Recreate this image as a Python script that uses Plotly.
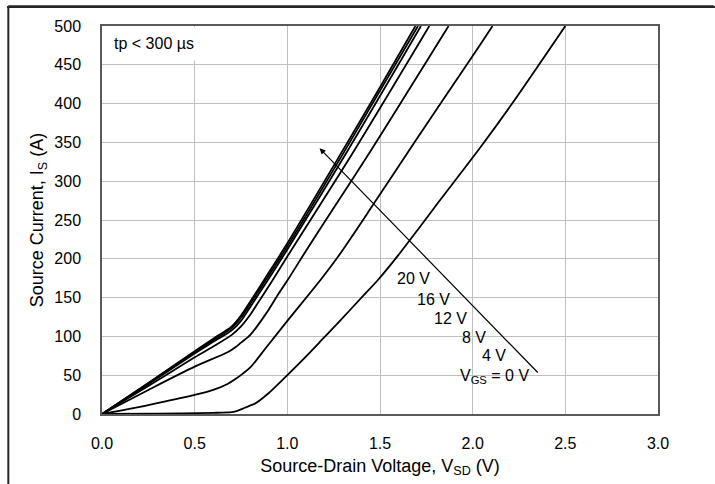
import plotly.graph_objects as go

# ---- data (V_SD in volts, I_S in amps) ----
v_c1 = [0, 0.25, 0.5, 0.6, 0.7, 0.75, 0.8, 0.878, 1.0, 1.3, 1.5, 1.691]
i_c1 = [0, 40, 81, 97, 113, 127, 145, 174, 220, 340, 421, 500]

v_c2 = [0, 0.25, 0.5, 0.6, 0.7, 0.75, 0.8, 0.887, 1.0, 1.312, 1.705]
i_c2 = [0, 39.5, 80, 95, 111, 124, 142, 174, 216, 340, 500]

v_c3 = [0, 0.25, 0.5, 0.6, 0.7, 0.75, 0.8, 0.896, 1.0, 1.327, 1.721]
i_c3 = [0, 38.5, 78, 93, 108, 120, 138, 173, 212, 340, 500]

v_c4 = [0, 0.25, 0.5, 0.6, 0.7, 0.75, 0.8, 0.833, 0.922, 1.0, 1.362, 1.766]
i_c4 = [0, 36, 73, 87, 102, 113, 128, 140, 173, 203, 340, 500]

v_c5 = [0, 0.25, 0.5, 0.68, 0.72, 0.75, 0.8, 0.887, 0.95, 1.0, 1.1, 1.2, 1.452, 1.87]
i_c5 = [0, 31, 61, 80, 86, 92, 102, 130, 154, 172, 210, 247, 340, 500]

v_c6 = [0, 0.25, 0.5, 0.6, 0.68, 0.72, 0.76, 0.8, 0.887, 1.0, 1.183, 1.28, 1.45, 1.68, 2.027, 2.107]
i_c6 = [0, 11.5, 24.5, 31, 39, 45, 52, 60, 86, 120, 174, 205, 265, 348, 471, 500]

v_c7 = [0, 0.3, 0.6, 0.7, 0.73, 0.77, 0.83, 0.9, 0.97, 1.0, 1.1, 1.2, 1.28, 1.4, 1.49, 1.6, 1.712, 1.8, 2.04, 2.213, 2.5]
i_c7 = [0, 0.5, 1.5, 2.5, 4, 8, 14, 27, 43, 50, 74, 99, 119, 150, 173, 205, 240, 268, 343, 400, 500]

curves = [(v_c1, i_c1), (v_c2, i_c2), (v_c3, i_c3), (v_c4, i_c4),
          (v_c5, i_c5), (v_c6, i_c6), (v_c7, i_c7)]

vgs_labels = ["20 V", "16 V", "12 V", "8 V", "4 V", "V<sub>GS</sub> = 0 V"]
x_ticks = [0.0, 0.5, 1.0, 1.5, 2.0, 2.5, 3.0]
y_ticks = [0, 50, 100, 150, 200, 250, 300, 350, 400, 450, 500]

FONT = "Liberation Sans, Arial, sans-serif"

fig = go.Figure()
for v, i in curves:
    fig.add_trace(go.Scatter(x=v, y=i, mode="lines",
                             line=dict(color="black", width=1.8, shape="spline", smoothing=0.8),
                             showlegend=False, hoverinfo="skip"))

# label positions (left edges) along the arrow
lab_pos = [(1.583, 174), (1.691, 148), (1.783, 122.5), (1.934, 99), (2.041, 75), (1.922, 48)]
for txt, (lx, ly) in zip(vgs_labels, lab_pos):
    fig.add_annotation(x=lx, y=ly, text=txt, showarrow=False, xanchor="left", yanchor="middle",
                       font=dict(family=FONT, size=16, color="black"))

# arrow
fig.add_annotation(x=1.174, y=342.5, ax=2.359, ay=51.5, axref="x", ayref="y", xref="x", yref="y",
                   text="", showarrow=True, arrowhead=2, arrowsize=1, arrowwidth=1.2, arrowcolor="black")

# white box behind the pulse note
fig.add_shape(type="rect", xref="paper", yref="paper", x0=0.01, x1=0.186, y0=0.911, y1=0.996,
              fillcolor="white", line=dict(width=0), layer="above")
fig.add_annotation(xref="paper", yref="paper", x=(111.7 - 102) / 556, y=(414 - 43.3) / 388,
                   xanchor="left", yanchor="middle", text="tp < 300 µs", showarrow=False,
                   font=dict(family=FONT, size=16, color="black"))

# outer frame (top and left edges visible in reference; right/bottom fall outside the image)
fig.add_shape(type="line", xref="paper", yref="paper", ysizemode="pixel", yanchor=1,
              x0=-0.1685, x1=1.1, y0=19.5, y1=19.5,
              line=dict(color="#262626", width=2.5), layer="above")
fig.add_shape(type="line", xref="paper", yref="paper", x0=-0.1685, x1=-0.1685, y0=1.0497, y1=-0.2,
              line=dict(color="#262626", width=2), layer="above")

fig.update_layout(
    width=715, height=484,
    margin=dict(l=102, r=57, t=26, b=70),
    paper_bgcolor="white", plot_bgcolor="white",
    font=dict(family=FONT, size=16, color="black"),
    xaxis=dict(range=[0, 3], tickvals=x_ticks, ticktext=[f"{t:.1f}" for t in x_ticks],
               showgrid=True, gridcolor="#bfbfbf", gridwidth=1.3,
               showline=True, linecolor="#595959", linewidth=1.5, mirror=True,
               ticks="", ticklabelstandoff=14, zeroline=False,
               title=dict(text="Source-Drain Voltage, V<sub>SD</sub> (V)", font=dict(size=18), standoff=8)),
    yaxis=dict(range=[0, 500], tickvals=y_ticks,
               showgrid=True, gridcolor="#bfbfbf", gridwidth=1.3,
               showline=True, linecolor="#595959", linewidth=1.5, mirror=True,
               ticks="", ticklabelstandoff=16, zeroline=False,
               title=dict(text="Source Current, I<sub>S</sub> (A)", font=dict(size=18), standoff=6)),
)

frame_js = (
    "document.body.style.margin='0';document.body.style.overflow='hidden';"
    "var f=document.createElement('div');"
    "f.style.cssText='position:fixed;left:7px;top:6px;width:720px;height:2px;"
    "background:#262626;pointer-events:none;z-index:10;';"
    "document.body.appendChild(f);"
)
fig.write_html("out.html", config={"displayModeBar": False}, post_script=frame_js)
